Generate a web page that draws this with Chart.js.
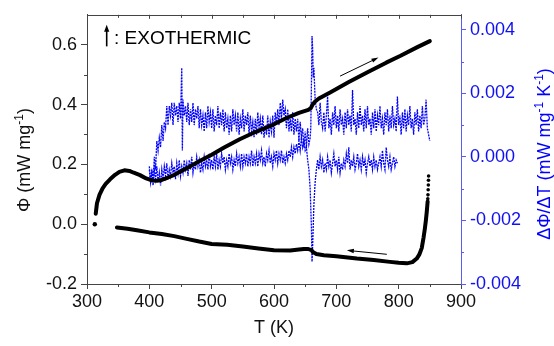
<!DOCTYPE html>
<html>
<head>
<meta charset="utf-8">
<script src="https://cdn.jsdelivr.net/npm/chart.js@4.4.0/dist/chart.umd.min.js"></script>
<style>
  html, body { margin: 0; padding: 0; background: #fff; }
  #wrap { width: 554px; height: 346px; }
</style>
</head>
<body>
<div id="wrap"><canvas id="grafico" width="554" height="346"></canvas></div>
<script>
// ticks
const ticksT = [300, 400, 500, 600, 700, 800, 900]
const minorT = [350, 450, 550, 650, 750, 850]
const ticksPhi = [-0.2, 0.0, 0.2, 0.4, 0.6]
const minorPhi = [-0.1, 0.1, 0.3, 0.5]
const ticksDer = [-0.004, -0.002, 0.000, 0.002, 0.004]
const minorDer = [-0.003, -0.001, 0.001, 0.003]

// Phi, calentamiento (curva de arriba)
const calentT = [314, 316, 320, 325, 330, 337, 345, 352, 360, 368, 375, 385, 395, 405, 412, 420, 430, 440, 460, 480,
  500, 520, 545, 570, 599, 620, 640, 655, 659, 662, 666, 672, 690, 720, 750, 780, 803, 830, 850]
const calentPhi = [0.035, 0.07, 0.098, 0.12, 0.135, 0.15, 0.165, 0.175, 0.18, 0.178, 0.172, 0.164, 0.153, 0.146, 0.145, 0.148, 0.156, 0.165, 0.187, 0.21,
  0.232, 0.256, 0.284, 0.308, 0.333, 0.355, 0.372, 0.382, 0.388, 0.40, 0.41, 0.42, 0.44, 0.475, 0.508, 0.540, 0.563, 0.592, 0.612]
const inicioT = [312.5]
const inicioPhi = [0.0]

// Phi, enfriamiento (curva de abajo)
const enfriT = [846.5, 845, 843.5, 842, 840, 837, 833, 829, 822, 813, 800, 786, 760, 733, 700, 680, 668, 663, 660, 655,
  648, 640, 626, 600, 575, 550, 525, 500, 480, 460, 440, 420, 400, 380, 365, 348]
const enfriPhi = [0.076, 0.04, 0.01, -0.015, -0.044, -0.08, -0.102, -0.115, -0.127, -0.131, -0.129, -0.126, -0.12, -0.115, -0.107, -0.104, -0.1, -0.094, -0.087, -0.083,
  -0.083, -0.085, -0.088, -0.087, -0.081, -0.075, -0.069, -0.066, -0.058, -0.049, -0.04, -0.033, -0.0275, -0.02, -0.015, -0.011]
const puntaT = [848, 847.8, 847.6, 847.3, 847, 846.7]
const puntaPhi = [0.161, 0.147, 0.131, 0.115, 0.098, 0.085]

// dPhi/dT calentamiento
const dCalT = [400, 402, 404, 406, 408, 410, 412, 414, 416, 418,
  420, 422, 424, 426, 428, 430, 432, 434, 436, 438,
  440, 442, 444, 446, 448, 450, 452, 453, 454, 456,
  458, 460, 462, 464, 466, 468, 470, 472, 474, 476,
  478, 480, 482, 484, 486, 488, 490, 492, 494, 496,
  498, 500, 502, 504, 506, 508, 510, 512, 514, 516,
  518, 520, 522, 524, 526, 528, 530, 532, 534, 536,
  538, 540, 542, 544, 546, 548, 550, 552, 554, 556,
  558, 560, 562, 564, 566, 568, 570, 572, 574, 576,
  578, 580, 582, 584, 586, 588, 590, 592, 594, 596,
  598, 600, 602, 604, 606, 608, 610, 612, 614, 616,
  618, 620, 622, 624, 626, 628, 630, 632, 634, 636,
  638, 640, 642, 644, 646, 648, 650, 652, 654, 656,
  658, 659, 660, 661, 662, 663, 664, 666, 668, 670,
  672, 674, 676, 678, 680, 682, 684, 686, 688, 690,
  692, 694, 696, 698, 700, 702, 704, 706, 708, 710,
  712, 714, 716, 718, 720, 722, 724, 726, 728, 730,
  732, 734, 736, 738, 740, 742, 744, 746, 748, 750,
  752, 754, 756, 758, 760, 762, 764, 766, 768, 770,
  772, 774, 776, 778, 780, 782, 784, 786, 788, 790,
  792, 794, 796, 798, 800, 802, 804, 806, 808, 810,
  812, 814, 816, 818, 820, 822, 824, 826, 828, 830,
  832, 834, 836, 838, 840, 842, 844, 846, 848, 850]
const dCalV = [-0.0004, -0.0008, -0.0004, -0.0008, 0.0000, -0.0004, 0.0005, 0.0002, 0.0006, 0.0003,
  0.0010, 0.0005, 0.0011, 0.0009, 0.0016, 0.0010, 0.0016, 0.0013, 0.0017, 0.0010,
  0.0017, 0.0013, 0.0016, 0.0011, 0.0017, 0.0012, 0.0028, 0.0002, 0.0018, 0.0013,
  0.0016, 0.0011, 0.0017, 0.0010, 0.0015, 0.0011, 0.0017, 0.0010, 0.0015, 0.0012,
  0.0016, 0.0009, 0.0015, 0.0010, 0.0013, 0.0008, 0.0014, 0.0009, 0.0016, 0.0011,
  0.0014, 0.0009, 0.0015, 0.0008, 0.0013, 0.0010, 0.0016, 0.0009, 0.0014, 0.0010,
  0.0015, 0.0008, 0.0014, 0.0009, 0.0012, 0.0007, 0.0013, 0.0008, 0.0015, 0.0010,
  0.0013, 0.0008, 0.0014, 0.0007, 0.0012, 0.0009, 0.0015, 0.0008, 0.0013, 0.0010,
  0.0014, 0.0007, 0.0013, 0.0008, 0.0011, 0.0006, 0.0012, 0.0007, 0.0014, 0.0009,
  0.0012, 0.0007, 0.0013, 0.0006, 0.0010, 0.0007, 0.0013, 0.0006, 0.0011, 0.0008,
  0.0013, 0.0006, 0.0014, 0.0010, 0.0015, 0.0010, 0.0017, 0.0012, 0.0018, 0.0013,
  0.0015, 0.0009, 0.0015, 0.0008, 0.0012, 0.0008, 0.0014, 0.0007, 0.0012, 0.0008,
  0.0012, 0.0005, 0.0011, 0.0006, 0.0009, 0.0003, 0.0008, 0.0003, 0.0009, 0.0004,
  0.0006, 0.0009, 0.0022, 0.0038, 0.0034, 0.0025, 0.0028, 0.0018, 0.0015, 0.0014,
  0.0010, 0.0017, 0.0011, 0.0009, 0.0014, 0.0008, 0.0013, 0.0019, 0.0009, 0.0012,
  0.0007, 0.0014, 0.0010, 0.0016, 0.0009, 0.0013, 0.0008, 0.0015, 0.0010, 0.0012,
  0.0007, 0.0014, 0.0009, 0.0015, 0.0010, 0.0013, 0.0008, 0.0021, 0.0010, 0.0012,
  0.0007, 0.0014, 0.0009, 0.0016, 0.0010, 0.0013, 0.0008, 0.0015, 0.0009, 0.0016,
  0.0010, 0.0012, 0.0007, 0.0014, 0.0009, 0.0015, 0.0008, 0.0013, 0.0010, 0.0016,
  0.0009, 0.0012, 0.0007, 0.0014, 0.0010, 0.0015, 0.0008, 0.0013, 0.0009, 0.0016,
  0.0010, 0.0012, 0.0008, 0.0019, 0.0010, 0.0013, 0.0007, 0.0014, 0.0009, 0.0015,
  0.0008, 0.0013, 0.0010, 0.0016, 0.0009, 0.0012, 0.0007, 0.0014, 0.0010, 0.0015,
  0.0008, 0.0013, 0.0009, 0.0016, 0.0010, 0.0012, 0.0018, 0.0009, 0.0007, 0.0005]

// dPhi/dT enfriamiento
const dEnfT = [400, 402, 404, 406, 408, 410, 412, 414, 416, 418,
  420, 422, 424, 426, 428, 430, 432, 434, 436, 438,
  440, 442, 444, 446, 448, 450, 452, 454, 456, 458,
  460, 462, 464, 466, 468, 470, 472, 474, 476, 478,
  480, 482, 484, 486, 488, 490, 492, 494, 496, 498,
  500, 502, 504, 506, 508, 510, 512, 514, 516, 518,
  520, 522, 524, 526, 528, 530, 532, 534, 536, 538,
  540, 542, 544, 546, 548, 550, 552, 554, 556, 558,
  560, 562, 564, 566, 568, 570, 572, 574, 576, 578,
  580, 582, 584, 586, 588, 590, 592, 594, 596, 598,
  600, 602, 604, 606, 608, 610, 612, 614, 616, 618,
  620, 622, 624, 626, 628, 630, 632, 634, 636, 638,
  640, 642, 644, 646, 648, 650, 652, 654, 656, 658,
  660, 661, 662, 664, 666, 668, 670, 672, 674, 676,
  678, 680, 682, 684, 686, 688, 690, 692, 694, 696,
  698, 700, 702, 704, 706, 708, 710, 712, 714, 716,
  718, 720, 722, 724, 726, 728, 730, 732, 734, 736,
  738, 740, 742, 744, 746, 748, 750, 752, 754, 756,
  758, 760, 762, 764, 766, 768, 770, 772, 774, 776,
  778, 780, 782, 784, 786, 788, 790, 792, 794, 796,
  798]
const dEnfV = [-0.0003, -0.0008, -0.0005, -0.0009, -0.0004, -0.0007, -0.0003, -0.0008, -0.0005, -0.0009,
  -0.0004, -0.0007, -0.0003, -0.0006, -0.0002, -0.0007, -0.0004, -0.0006, -0.0002, -0.0005,
  -0.0003, -0.0007, -0.0002, -0.0005, -0.0001, -0.0006, -0.0003, -0.0005, -0.0001, -0.0004,
  -0.0002, -0.0006, -0.0001, -0.0004, 0.0000, -0.0005, -0.0002, -0.0004, 0.0000, -0.0003,
  -0.0001, -0.0005, -0.0002, -0.0004, 0.0000, -0.0003, -0.0001, -0.0004, 0.0001, -0.0003,
  -0.0001, -0.0004, 0.0000, -0.0003, 0.0001, -0.0004, -0.0001, -0.0003, 0.0001, -0.0002,
  0.0000, -0.0004, -0.0001, -0.0003, 0.0001, -0.0002, 0.0000, -0.0004, -0.0001, -0.0003,
  0.0001, -0.0002, 0.0000, -0.0003, 0.0001, -0.0003, 0.0000, -0.0002, 0.0001, -0.0003,
  0.0000, -0.0002, 0.0002, -0.0003, 0.0000, -0.0002, 0.0001, -0.0003, 0.0001, -0.0001,
  0.0002, -0.0002, 0.0000, -0.0003, 0.0001, -0.0001, 0.0002, -0.0002, 0.0000, -0.0003,
  0.0001, -0.0001, 0.0002, -0.0002, 0.0001, -0.0001, 0.0002, -0.0002, 0.0000, -0.0002,
  0.0001, -0.0001, 0.0002, 0.0000, 0.0003, 0.0000, 0.0003, 0.0001, 0.0004, 0.0002,
  0.0005, 0.0002, 0.0006, 0.0003, 0.0005, 0.0002, 0.0003, -0.0001, -0.0004, -0.0010,
  -0.0022, -0.0033, -0.0028, -0.0015, -0.0008, -0.0004, -0.0001, -0.0004, 0.0000, -0.0003,
  -0.0001, -0.0005, -0.0002, -0.0004, 0.0000, -0.0003, -0.0001, -0.0005, -0.0002, 0.0001,
  -0.0003, -0.0001, -0.0004, 0.0000, -0.0005, -0.0002, -0.0004, -0.0001, -0.0003, 0.0001,
  -0.0002, 0.0003, -0.0004, -0.0001, -0.0003, 0.0000, -0.0004, -0.0002, 0.0001, -0.0003,
  -0.0001, -0.0004, 0.0000, -0.0003, -0.0001, -0.0005, -0.0002, 0.0000, -0.0003, -0.0001,
  -0.0004, 0.0000, -0.0003, -0.0001, -0.0004, -0.0002, 0.0000, -0.0003, 0.0002, -0.0002,
  -0.0004, 0.0003, -0.0001, -0.0003, 0.0000, -0.0004, -0.0002, 0.0000, -0.0003, -0.0001,
  -0.0002]

// flechas (en coordenadas de datos)
const flechaCalent = [[706, 0.495], [767.6, 0.557]]
const flechaEnfri = [[781, -0.1007], [716.9, -0.0875]]
const flechaExo = [[331.6, 0.5945], [331.6, 0.6667]]
const textoExo = [345, 0.601]

const familia = "'Liberation Sans', Arial, sans-serif"
const azul = '#0000ff'
const gris = '#444'

function juntar(xs, ys) {
  return xs.map((x, i) => ({ x: x, y: ys[i] }))
}

function flecha(ctx, x1, y1, x2, y2, largo, ancho) {
  const ang = Math.atan2(y2 - y1, x2 - x1)
  ctx.beginPath()
  ctx.moveTo(x1, y1)
  ctx.lineTo(x2 - Math.cos(ang) * largo * 0.8, y2 - Math.sin(ang) * largo * 0.8)
  ctx.stroke()
  ctx.beginPath()
  ctx.moveTo(x2, y2)
  ctx.lineTo(x2 - Math.cos(ang) * largo - Math.sin(ang) * ancho, y2 - Math.sin(ang) * largo + Math.cos(ang) * ancho)
  ctx.lineTo(x2 - Math.cos(ang) * largo + Math.sin(ang) * ancho, y2 - Math.sin(ang) * largo - Math.cos(ang) * ancho)
  ctx.closePath()
  ctx.fill()
}

// texto con superindices, centrado en 0
function textoSup(ctx, partes) {
  let total = 0
  partes.forEach(p => {
    ctx.font = (p[1] ? '12px ' : '18px ') + familia
    total += ctx.measureText(p[0]).width
  })
  let x = -total / 2
  partes.forEach(p => {
    ctx.font = (p[1] ? '12px ' : '18px ') + familia
    ctx.fillText(p[0], x, p[1] ? -7 : 0)
    x += ctx.measureText(p[0]).width
  })
}

const extras = {
  id: 'extras',
  afterDraw(chart) {
    const ctx = chart.ctx
    const sx = chart.scales.x, sy = chart.scales.y, sy1 = chart.scales.y1
    const a = chart.chartArea
    ctx.save()
    ctx.lineWidth = 1
    ctx.strokeStyle = gris
    // borde superior
    ctx.beginPath()
    ctx.moveTo(a.left, Math.round(a.top) + 0.5)
    ctx.lineTo(a.right, Math.round(a.top) + 0.5)
    ctx.stroke()
    // ticks menores abajo y ticks arriba (hacia dentro)
    minorT.forEach(v => {
      const px = Math.round(sx.getPixelForValue(v)) + 0.5
      ctx.beginPath(); ctx.moveTo(px, a.bottom); ctx.lineTo(px, a.bottom + 3); ctx.stroke()
      ctx.beginPath(); ctx.moveTo(px, a.top); ctx.lineTo(px, a.top + 3); ctx.stroke()
    })
    ticksT.forEach(v => {
      const px = Math.round(sx.getPixelForValue(v)) + 0.5
      ctx.beginPath(); ctx.moveTo(px, a.top); ctx.lineTo(px, a.top + 4); ctx.stroke()
    })
    minorPhi.forEach(v => {
      const py = Math.round(sy.getPixelForValue(v)) + 0.5
      ctx.beginPath(); ctx.moveTo(a.left - 3, py); ctx.lineTo(a.left, py); ctx.stroke()
    })
    ctx.strokeStyle = '#5a5af5'
    minorDer.forEach(v => {
      const py = Math.round(sy1.getPixelForValue(v)) + 0.5
      ctx.beginPath(); ctx.moveTo(a.right, py); ctx.lineTo(a.right + 3, py); ctx.stroke()
    })

    // flechas
    ctx.strokeStyle = '#000'
    ctx.fillStyle = '#000'
    ctx.lineWidth = 1
    ;[flechaCalent, flechaEnfri].forEach(f => {
      flecha(ctx, sx.getPixelForValue(f[0][0]), sy.getPixelForValue(f[0][1]),
        sx.getPixelForValue(f[1][0]), sy.getPixelForValue(f[1][1]), 7, 2.2)
    })
    ctx.lineWidth = 1.6
    flecha(ctx, sx.getPixelForValue(flechaExo[0][0]), sy.getPixelForValue(flechaExo[0][1]),
      sx.getPixelForValue(flechaExo[1][0]), sy.getPixelForValue(flechaExo[1][1]), 7, 2.6)
    ctx.font = '19px ' + familia
    ctx.textAlign = 'left'
    ctx.textBaseline = 'alphabetic'
    ctx.fillText(': EXOTHERMIC', sx.getPixelForValue(textoExo[0]) - 1, sy.getPixelForValue(textoExo[1]))

    // titulos de ejes
    ctx.fillStyle = '#111'
    ctx.textAlign = 'left'
    ctx.font = '18px ' + familia
    const tw = ctx.measureText('T (K)').width
    ctx.fillText('T (K)', (a.left + a.right) / 2 - tw / 2, 332.5)

    ctx.save()
    ctx.translate(30, 160)
    ctx.rotate(-Math.PI / 2)
    textoSup(ctx, [['Φ (mW mg', false], ['-1', true], [')', false]])
    ctx.restore()

    ctx.save()
    ctx.fillStyle = azul
    ctx.translate(550, 154)
    ctx.rotate(-Math.PI / 2)
    textoSup(ctx, [['ΔΦ/ΔT (mW mg', false], ['-1', true], [' K', false], ['-1', true], [')', false]])
    ctx.restore()

    ctx.restore()
  }
}

const fuente = { family: familia, size: 18 }

new Chart(document.getElementById('grafico'), {
  type: 'line',
  data: {
    datasets: [
      { data: juntar(calentT, calentPhi), yAxisID: 'y', borderColor: '#000', borderWidth: 4, pointRadius: 0,
        borderCapStyle: 'round', borderJoinStyle: 'round' },
      { data: juntar(enfriT, enfriPhi), yAxisID: 'y', borderColor: '#000', borderWidth: 4, pointRadius: 0,
        borderCapStyle: 'round', borderJoinStyle: 'round' },
      { data: juntar(puntaT, puntaPhi), yAxisID: 'y', showLine: false, pointRadius: 1.8,
        pointBackgroundColor: '#000', pointBorderWidth: 0 },
      { data: juntar(inicioT, inicioPhi), yAxisID: 'y', showLine: false, pointRadius: 2.2,
        pointBackgroundColor: '#000', pointBorderWidth: 0 },
      { data: juntar(dCalT, dCalV), yAxisID: 'y1', borderColor: azul, borderWidth: 1.3, borderDash: [2, 1], pointRadius: 0 },
      { data: juntar(dEnfT, dEnfV), yAxisID: 'y1', borderColor: azul, borderWidth: 1.3, borderDash: [2, 1], pointRadius: 0 }
    ]
  },
  options: {
    responsive: false,
    animation: false,
    layout: { padding: { top: 10, left: 0, right: 0, bottom: 0 } },
    plugins: { legend: { display: false }, tooltip: { enabled: false } },
    scales: {
      x: {
        type: 'linear', position: 'bottom', min: 300, max: 900,
        afterBuildTicks: s => { s.ticks = ticksT.map(v => ({ value: v })) },
        afterFit: s => { s.height = 62 },
        ticks: { font: fuente, color: '#111', padding: 2, maxRotation: 0, callback: v => String(v) },
        grid: { drawOnChartArea: false, tickLength: 5, color: gris },
        border: { color: gris }
      },
      y: {
        type: 'linear', position: 'left', min: -0.2, max: 0.7,
        afterBuildTicks: s => { s.ticks = ticksPhi.map(v => ({ value: v })) },
        afterFit: s => { s.width = 87 },
        ticks: { font: fuente, color: '#111', padding: 4, callback: v => v.toFixed(1) },
        grid: { drawOnChartArea: false, tickLength: 6, color: gris },
        border: { color: gris }
      },
      y1: {
        type: 'linear', position: 'right', min: -0.004, max: 0.00447,
        afterBuildTicks: s => { s.ticks = ticksDer.map(v => ({ value: v })) },
        afterFit: s => { s.width = 93 },
        ticks: { font: fuente, color: '#1010f0', padding: 4, callback: v => v.toFixed(3) },
        grid: { drawOnChartArea: false, tickLength: 5, color: '#5a5af5' },
        border: { color: '#5a5af5' }
      }
    }
  },
  plugins: [extras]
})
</script>
</body>
</html>
